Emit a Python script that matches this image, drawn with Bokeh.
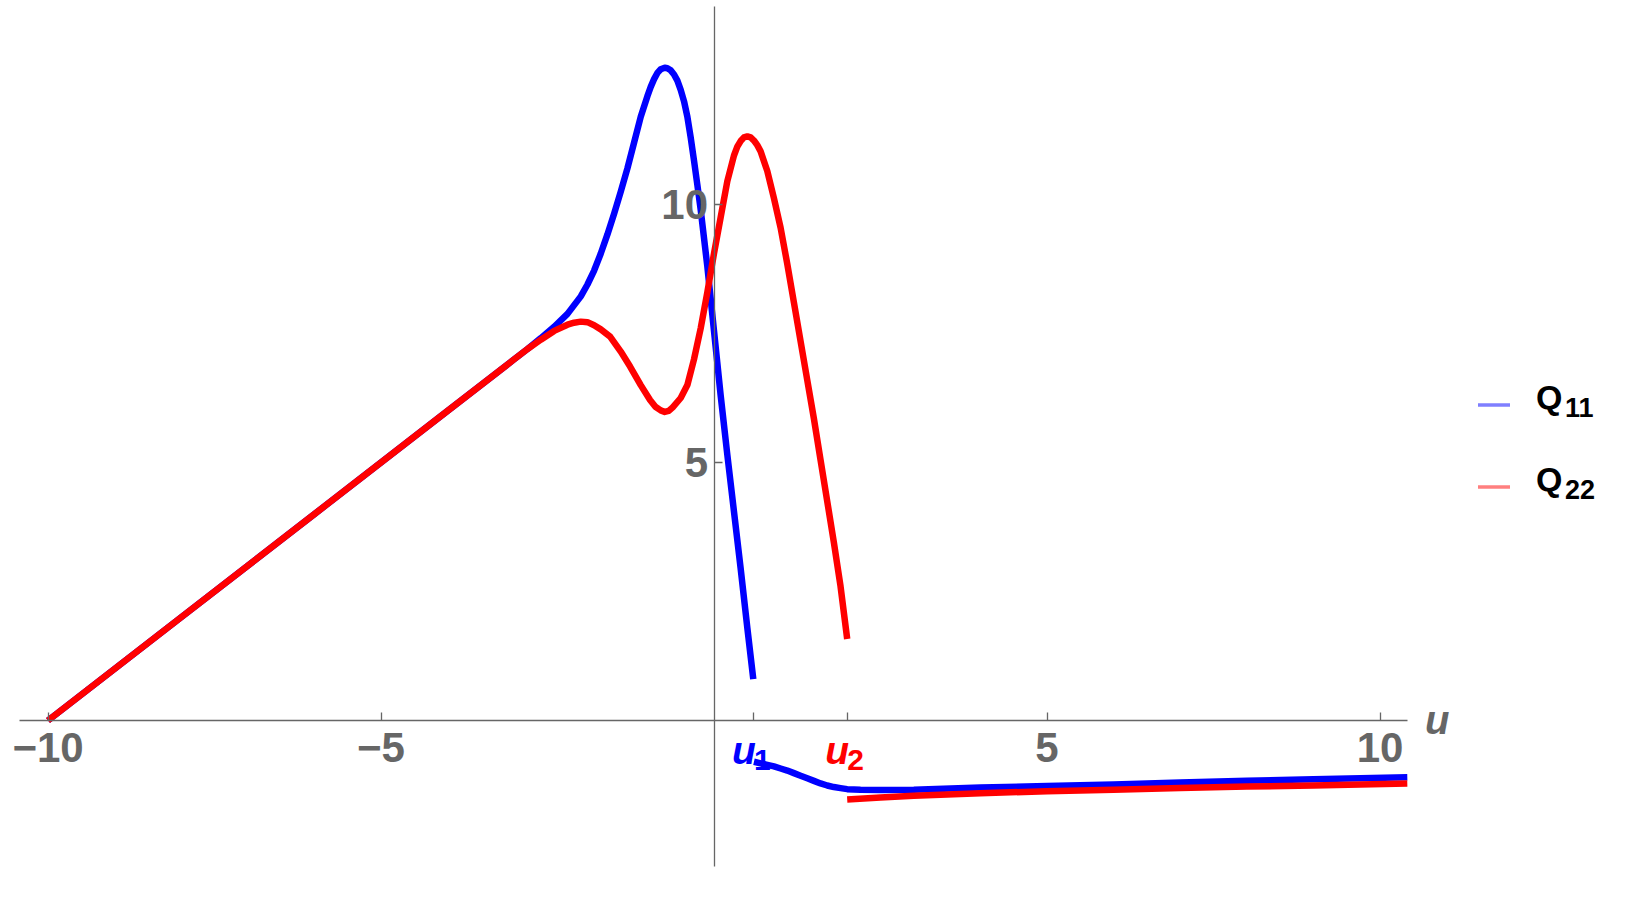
from bokeh.plotting import figure
from bokeh.models import Range1d, FixedTicker
from bokeh.core.properties import value
from bokeh.embed import file_html
from bokeh.resources import INLINE

# ---------------- data ----------------
U1 = 0.6
U2 = 2

q11_up_x = [-10, -8, -6, -4, -3, -2.8, -2.6, -2.4, -2.2, -2.0, -1.9, -1.8, -1.7, -1.6, -1.5,
            -1.4, -1.3, -1.2, -1.1, -1.0, -0.95, -0.9, -0.85, -0.8, -0.74, -0.7, -0.65, -0.6,
            -0.55, -0.5, -0.45, -0.4, -0.35, -0.3, -0.25, -0.2, -0.1, 0.0, 0.1, 0.2, 0.3,
            0.4, 0.5, 0.59]
q11_up_y = [0, 2, 4, 6, 7.0, 7.2, 7.41, 7.63, 7.88, 8.22, 8.45, 8.72, 9.05, 9.42, 9.82,
            10.25, 10.7, 11.2, 11.7, 12.1, 12.28, 12.43, 12.55, 12.62, 12.65, 12.64, 12.6, 12.52,
            12.4, 12.22, 12.0, 11.7, 11.3, 10.85, 10.38, 9.9, 8.8, 7.55, 6.3, 5.15, 4.05,
            2.95, 1.8, 0.8]

q11_lo_x = [0.6, 0.7, 0.8, 0.9, 1.0, 1.1, 1.2, 1.3, 1.4, 1.5, 1.6, 1.7, 1.8, 1.9, 2.0,
            2.2, 2.5, 3, 4, 5, 6, 7, 8, 9, 10.41]
q11_lo_y = [-0.80, -0.83, -0.86, -0.89, -0.93, -0.97, -1.02, -1.07, -1.12, -1.17, -1.22,
            -1.26, -1.29, -1.31, -1.33, -1.34, -1.345, -1.34, -1.30, -1.27, -1.24, -1.20,
            -1.17, -1.14, -1.10]

q22_up_x = [-10, -8, -6, -4, -3, -2.8, -2.6, -2.4, -2.2, -2.1, -2.0, -1.9, -1.8, -1.7, -1.56,
            -1.4, -1.26, -1.1, -0.96, -0.88, -0.8, -0.74, -0.68, -0.62, -0.5, -0.4, -0.3, -0.2,
            -0.1, 0.0, 0.1, 0.2, 0.3, 0.35, 0.4, 0.45, 0.5, 0.55, 0.6, 0.65, 0.7, 0.8, 0.9,
            1.0, 1.1, 1.2, 1.3, 1.4, 1.5, 1.6, 1.7, 1.8, 1.9, 2.0]
q22_up_y = [0, 2, 4, 6, 7.0, 7.2, 7.38, 7.55, 7.67, 7.71, 7.73, 7.72, 7.66, 7.58, 7.44,
            7.15, 6.86, 6.5, 6.21, 6.08, 6.01, 5.98, 6.0, 6.07, 6.25, 6.5, 7.0, 7.6,
            8.3, 9.05, 9.75, 10.45, 10.95, 11.12, 11.23, 11.3, 11.32, 11.3, 11.24, 11.15,
            11.03, 10.65, 10.12, 9.55, 8.85, 8.1, 7.35, 6.6, 5.85, 5.05, 4.25, 3.45, 2.6, 1.58]

q22_lo_x = [2.0, 2.5, 3, 4, 5, 6, 7, 8, 9, 10.41]
q22_lo_y = [-1.53, -1.49, -1.46, -1.41, -1.37, -1.34, -1.31, -1.28, -1.26, -1.22]

x_ticks = [-10, -5, U1, U2, 5, 10]
x_tick_labels = ["\u221210", "\u22125", "", "", "5", "10"]
y_ticks = [5, 10]
y_tick_labels = ["5", "10"]

series_main = ["Q", "Q"]
series_sub = ["11", "22"]
series_colors = ["#0000FF", "#FF0000"]
point_names = ["u", "u"]
point_subs = ["1", "2"]
axis_name = "u"

# ---------------- layout helpers ----------------
PX_PER_X = 66.6
PX_PER_Y = 51.6
X0_PAGE = 714.0
Y0_PAGE = 720.5
ORG = 0.5          # where the canvas actually starts on the photographed page
W, H = 1620, 870
BFIX = -13         # baseline correction for text glyphs


def dx(px):
    return (px - X0_PAGE) / PX_PER_X


def dy(py):
    return (Y0_PAGE - py) / PX_PER_Y


XS, XE = dx(ORG), dx(ORG + W)
YT, YB = dy(ORG), dy(ORG + H)

p = figure(width=W, height=H, x_range=Range1d(XS, XE), y_range=Range1d(YB, YT),
           output_backend="svg", toolbar_location=None, min_border=0,
           outline_line_color=None)
p.grid.visible = False
p.background_fill_color = "white"

AX_COL = "#666666"
FONT = "Liberation Sans"

for ax in (p.xaxis[0], p.yaxis[0]):
    ax.fixed_location = 0
    ax.axis_line_color = AX_COL
    ax.axis_line_width = 1.3
    ax.major_tick_line_color = AX_COL
    ax.major_tick_line_width = 1.3
    ax.major_tick_in = 8
    ax.major_tick_out = 0
    ax.minor_tick_line_color = None
    ax.major_label_text_color = AX_COL
    ax.major_label_text_font = FONT
    ax.major_label_text_font_style = "bold"
    ax.major_label_text_font_size = "42px"

p.xaxis.bounds = (dx(19), dx(1407.5))
p.yaxis.bounds = (dy(866), dy(6))
p.xaxis.ticker = FixedTicker(ticks=x_ticks)
p.yaxis.ticker = FixedTicker(ticks=y_ticks)
p.xaxis.major_label_overrides = dict(zip(x_ticks, x_tick_labels))
p.yaxis.major_label_overrides = dict(zip(y_ticks, y_tick_labels))
p.xaxis.major_label_standoff = 12
p.yaxis.major_label_standoff = 6

# ---------------- curves ----------------
LW = 6.5
p.line(q11_up_x, q11_up_y, line_color=series_colors[0], line_width=LW, line_join="round")
p.line(q11_lo_x, q11_lo_y, line_color=series_colors[0], line_width=LW, line_join="round")
p.line(q22_up_x, q22_up_y, line_color=series_colors[1], line_width=LW, line_join="round")
p.line(q22_lo_x, q22_lo_y, line_color=series_colors[1], line_width=LW, line_join="round")

# ---------------- axis name ----------------
p.text(x=[dx(1425)], y=[0], text=[axis_name], text_color=AX_COL,
       text_font=value(FONT), text_font_style="bold italic", text_font_size="40px",
       text_baseline="alphabetic", text_align="left", y_offset=[733 - Y0_PAGE + BFIX])

# ---------------- u1 / u2 labels ----------------
pts = [U1, U2]
for xv, nm, sb, col in zip(pts, point_names, point_subs, series_colors):
    p.text(x=[xv], y=[0], text=[nm], text_color=col, text_font=value(FONT),
           text_font_style="bold italic", text_font_size="39px", text_align="left",
           text_baseline="alphabetic", x_offset=[-22], y_offset=[763 - Y0_PAGE + BFIX])
    p.text(x=[xv], y=[0], text=[sb], text_color=col, text_font=value(FONT),
           text_font_style="bold", text_font_size="30px", text_align="left",
           text_baseline="alphabetic", x_offset=[0], y_offset=[773 - Y0_PAGE + BFIX])

# ---------------- legend ----------------
leg_rows = [405, 487]
for row, m, s, col in zip(leg_rows, series_main, series_sub, series_colors):
    p.segment(x0=[dx(1478)], y0=[dy(row)], x1=[dx(1510)], y1=[dy(row)],
              line_color=col, line_alpha=0.5, line_width=3.5)
    p.text(x=[dx(1536)], y=[dy(row + 5 + BFIX)], text=[m], text_color="black",
           text_font=value(FONT), text_font_style="bold", text_font_size="34px",
           text_align="left", text_baseline="alphabetic")
    p.text(x=[dx(1565)], y=[dy(row + 15 + BFIX)], text=[s], text_color="black",
           text_font=value(FONT), text_font_style="bold", text_font_size="27px",
           text_align="left", text_baseline="alphabetic")

open("out.html", "w").write(file_html(p, INLINE))
